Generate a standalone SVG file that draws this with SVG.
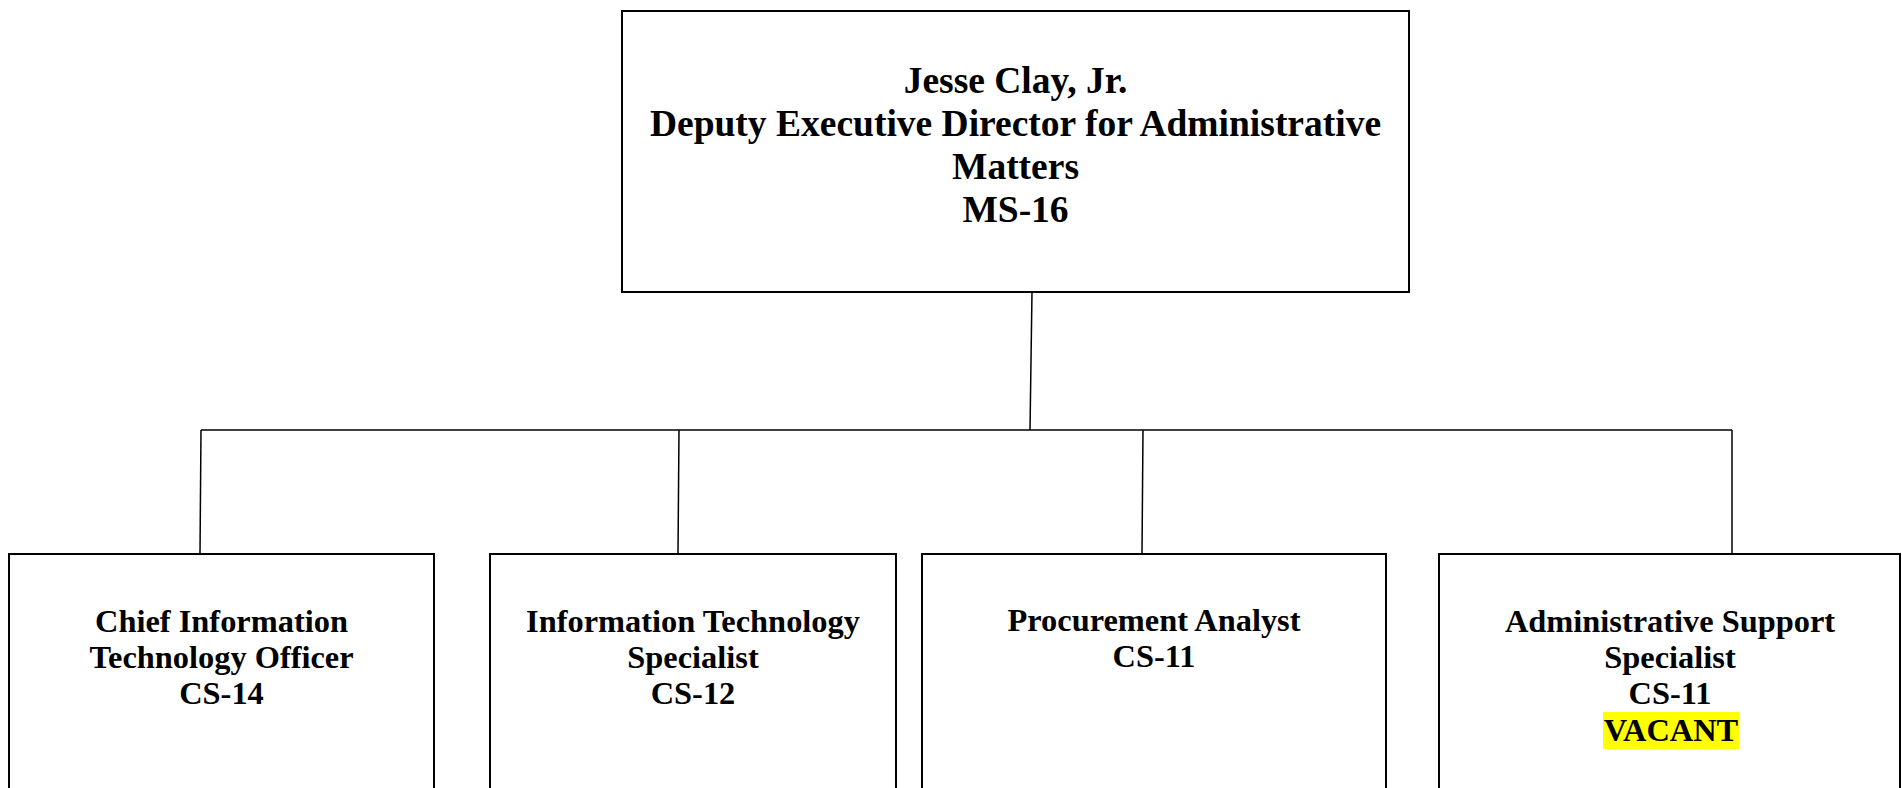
<svg xmlns="http://www.w3.org/2000/svg" width="1902" height="788" viewBox="0 0 1902 788">
<style>
.box{fill:#fff;stroke:#000;stroke-width:2}
.con{fill:none;stroke:#000;stroke-width:1.5}
.t{font-family:"Liberation Serif","Times New Roman",serif;font-weight:bold;fill:#000;text-anchor:middle}
.big{font-size:37.5px}
.sm{font-size:32.4px}
</style>
<rect width="1902" height="788" fill="#fff"/>
<g id="connectors">
<path class="con" d="M1032 292 L1030 430"/>
<path class="con" d="M201 430 L1732 430"/>
<path class="con" d="M201 430 L200 554"/>
<path class="con" d="M679 430 L678 554"/>
<path class="con" d="M1143 430 L1142 554"/>
<path class="con" d="M1732 430 L1732 554"/>
</g>
<g id="director">
<rect class="box" x="622" y="11" width="787" height="281"/>
<text class="t big" x="1015.5" y="93">Jesse Clay, Jr.</text>
<text class="t big" x="1015.5" y="136">Deputy Executive Director for Administrative</text>
<text class="t big" x="1015.5" y="179">Matters</text>
<text class="t big" x="1015.5" y="222">MS-16</text>
</g>
<g id="cito">
<rect class="box" x="9" y="554" width="425" height="260"/>
<text class="t sm" x="221.5" y="632">Chief Information</text>
<text class="t sm" x="221.5" y="668">Technology Officer</text>
<text class="t sm" x="221.5" y="704">CS-14</text>
</g>
<g id="its">
<rect class="box" x="490" y="554" width="406" height="260"/>
<text class="t sm" x="693" y="632">Information Technology</text>
<text class="t sm" x="693" y="668">Specialist</text>
<text class="t sm" x="693" y="704">CS-12</text>
</g>
<g id="procurement">
<rect class="box" x="922" y="554" width="464" height="260"/>
<text class="t sm" x="1154" y="631">Procurement Analyst</text>
<text class="t sm" x="1154" y="667">CS-11</text>
</g>
<g id="admin">
<rect class="box" x="1439" y="554" width="461" height="260"/>
<text class="t sm" x="1670" y="632">Administrative Support</text>
<text class="t sm" x="1670" y="668">Specialist</text>
<text class="t sm" x="1670" y="704">CS-11</text>
<rect x="1603" y="712" width="136" height="37" fill="#ffff00"/>
<text class="t sm" x="1671" y="741">VACANT</text>
</g>
</svg>
